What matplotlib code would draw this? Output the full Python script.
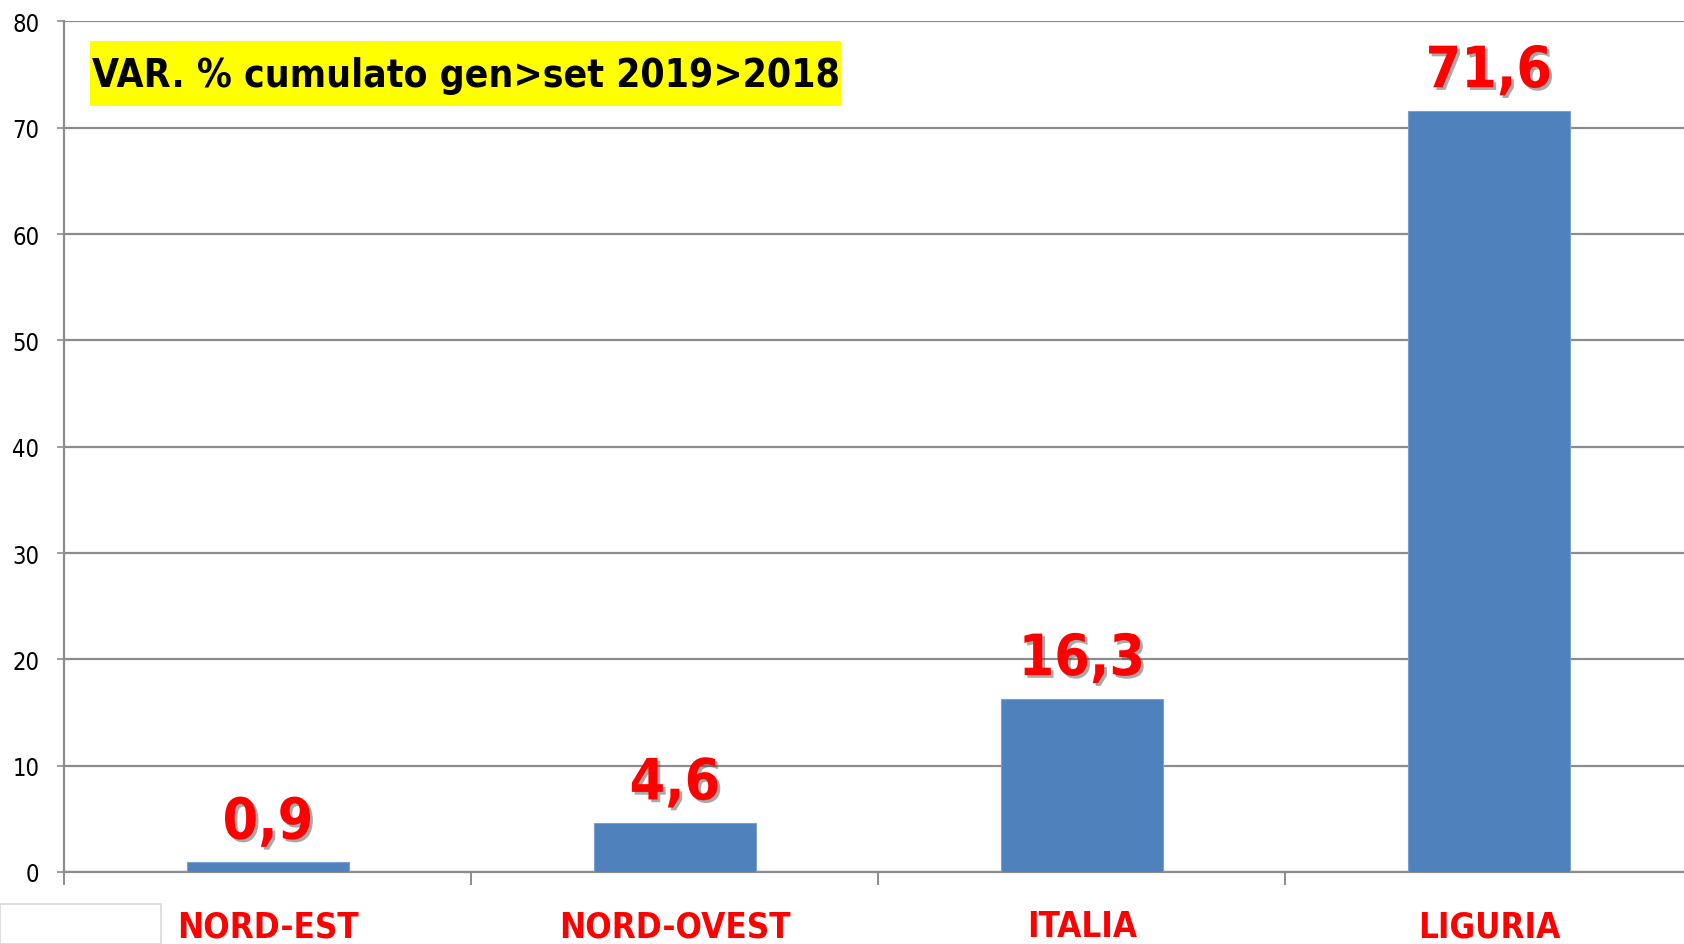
import matplotlib.pyplot as plt
import matplotlib.patheffects as pe
from matplotlib.patches import Rectangle

categories = ['NORD-EST', 'NORD-OVEST', 'ITALIA', 'LIGURIA']
values = [0.9, 4.6, 16.3, 71.6]
value_labels = ['0,9', '4,6', '16,3', '71,6']
title = 'VAR. % cumulato gen>set 2019>2018'

cond = dict(family='DejaVu Sans', stretch='condensed')
grid_col = '#8c8c8c'
W, H = 1684, 945

fig = plt.figure(figsize=(16.84, 9.45), dpi=100)
ax = fig.add_axes([0.0383, 0.0762, 0.9667, 0.9])

x = list(range(len(categories)))
ax.bar(x, values, width=0.4, color='#4f81bd', edgecolor='#7ba0d0', linewidth=0.8, zorder=3)

ax.set_xlim(-0.5, 3.5)
ax.set_ylim(0, 80)
ax.set_yticks(range(0, 81, 10))
ax.yaxis.grid(True, color=grid_col, linewidth=1.6, zorder=0)

for s in ['top', 'right']:
    ax.spines[s].set_visible(False)
for s in ['left', 'bottom']:
    ax.spines[s].set_color(grid_col)
    ax.spines[s].set_linewidth(1.6)

ax.tick_params(axis='y', length=5, width=1.2, color=grid_col, pad=13, labelsize=17)
for lab in ax.get_yticklabels():
    lab.set_family('DejaVu Sans')
    lab.set_stretch('condensed')

ax.set_xticks(x)
ax.set_xticklabels(categories)
ax.set_xticks([-0.5, 0.5, 1.5, 2.5], minor=True)
ax.tick_params(axis='x', which='major', length=0, pad=27)
ax.tick_params(axis='x', which='minor', length=9, width=1.4, color=grid_col)
for lab in ax.get_xticklabels():
    lab.set_family('DejaVu Sans')
    lab.set_stretch('condensed')
    lab.set_fontsize(25)
    lab.set_fontweight('bold')
    lab.set_color('#ff0000')

shadow = [pe.SimplePatchShadow(offset=(2, -2), shadow_rgbFace='#555555', alpha=0.5), pe.Normal()]
for xi, v, t in zip(x, values, value_labels):
    ax.annotate(t, (xi, v), xytext=(0, 17), textcoords='offset points',
                ha='center', va='baseline', fontsize=41, fontweight='bold',
                color='#ff0000', path_effects=shadow, **cond)

# yellow title box
fig.patches.append(Rectangle((90 / W, 1 - 107 / H), 751 / W, 65 / H, transform=fig.transFigure,
                             facecolor='#ffff00', edgecolor='none', zorder=5))
fig.text(466 / W, 1 - 76 / H, title, ha='center', va='center', fontsize=28,
         fontweight='bold', color='black', zorder=6, **cond)

fig.patches.append(Rectangle((0, 0), 161 / W, 40 / H, transform=fig.transFigure,
                             facecolor='white', edgecolor='#d9d9d9', linewidth=1.2))

fig.savefig('out.png', dpi=100)
